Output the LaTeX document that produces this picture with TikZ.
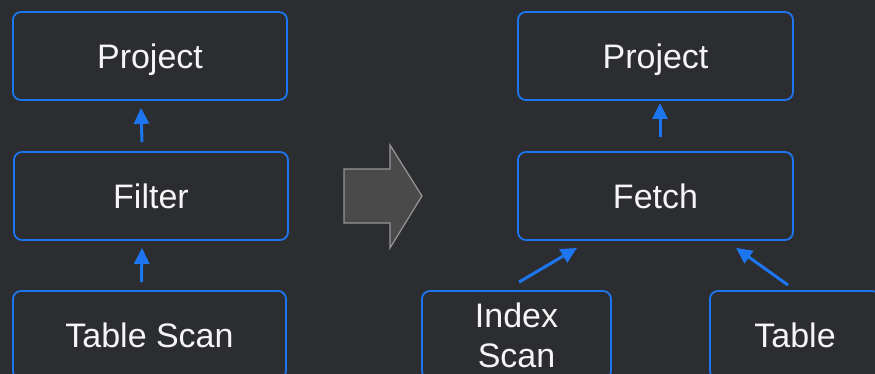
\documentclass[tikz,border=0pt]{standalone}
\usepackage{fontspec}
\setmainfont{Liberation Sans}
\usetikzlibrary{arrows.meta}
\definecolor{bg}{RGB}{43,45,49}
\definecolor{edge}{RGB}{29,118,240}
\definecolor{bigfill}{RGB}{74,74,74}
\definecolor{bigline}{RGB}{150,150,150}
\definecolor{ink}{RGB}{245,245,245}
\tikzset{
  opbox/.style={draw=edge, line width=1.8pt, rounded corners=8pt, fill=bg,
    text=ink, font=\fontsize{34}{40}\selectfont, minimum height=88pt,
    inner sep=0pt, align=center},
  oneline/.style={text height=24.3pt, text depth=0pt},
  flow/.style={draw=edge, line width=3pt, -{Triangle[length=16pt,width=15pt]}},
}
\begin{document}
\begin{tikzpicture}[x=1pt, y=-1pt]
  \fill[bg] (0,0) rectangle (875,374);
  \useasboundingbox (0,0) rectangle (875,374);
  \clip (0,0) rectangle (875,374);

  % original plan
  \node[opbox, oneline, minimum width=274pt] (projL) at (150,56) {Project};
  \node[opbox, oneline, minimum width=274pt] (filt)  at (151,196) {Filter};
  \node[opbox, oneline, minimum width=273pt] (scan)  at (149.5,335) {Table Scan};

  % rewritten plan
  \node[opbox, oneline, minimum width=275pt] (projR) at (655.5,56) {Project};
  \node[opbox, oneline, minimum width=275pt] (fetch) at (655.5,196) {Fetch};
  \node[opbox, minimum width=189pt] (idx) at (516.5,335) {Index\\Scan};
  \node[opbox, oneline, minimum width=170pt] (tbl) at (795,335) {Table};

  % data flow
  \draw[flow] ([xshift=-9pt,yshift=9pt]filt.north) -- ([xshift=-9pt,yshift=-7pt]projL.south);
  \draw[flow] ([xshift=-8pt,yshift=8pt]scan.north) -- ([xshift=-9pt,yshift=-7pt]filt.south);
  \draw[flow] ([xshift=4.5pt,yshift=14pt]fetch.north) -- ([xshift=4.5pt,yshift=-2pt]projR.south);
  \draw[flow] ([xshift=2.5pt,yshift=8pt]idx.north) -- ([xshift=-78.5pt,yshift=-7pt]fetch.south);
  \draw[flow] ([xshift=-7pt,yshift=5pt]tbl.north) -- ([xshift=80.5pt,yshift=-7pt]fetch.south);

  % transformation arrow
  \draw[fill=bigfill, draw=bigline, line width=1.2pt, line join=miter]
    (344,169) -- (390,169) -- (390,145) -- (422,196) -- (390,248) -- (390,223) -- (344,223) -- cycle;
\end{tikzpicture}
\end{document}
